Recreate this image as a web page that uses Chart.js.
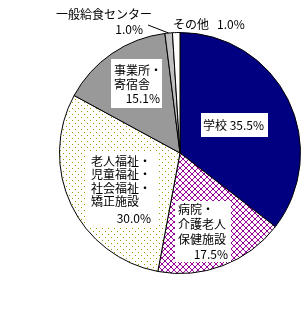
<!DOCTYPE html>
<html>
<head>
<meta charset="utf-8">
<script src="https://cdn.jsdelivr.net/npm/chart.js@4"></script>
<style>
  html, body { margin: 0; padding: 0; background: #fff; }
  canvas { display: block; }
</style>
</head>
<body>
<canvas id="chart" width="308" height="310"></canvas>
<script>
// data
const categories = ["学校", "病院・介護老人保健施設", "老人福祉・児童福祉・社会福祉・矯正施設", "事業所・寄宿舎", "一般給食センター", "その他"];
const shares = [35.5, 17.5, 30.0, 15.1, 1.0, 1.0];
const shareLabels = ["35.5%", "17.5%", "30.0%", "15.1%", "1.0%", "1.0%"];
const nameLines = [["学校"], ["病院・", "介護老人", "保健施設"], ["老人福祉・", "児童福祉・", "社会福祉・", "矯正施設"], ["事業所・", "寄宿舎"], ["一般給食センター"], ["その他"]];

const FONT = '12px "Noto Sans CJK JP"';

function makePattern(size, draw) {
    const c = document.createElement("canvas");
    c.width = size; c.height = size;
    const g = c.getContext("2d");
    g.fillStyle = "#fff";
    g.fillRect(0, 0, size, size);
    draw(g);
    return g.createPattern(c, "repeat");
}

// purple cross hatch
const hatch = makePattern(6, function(g) {
    g.fillStyle = "#990099";
    for (let i = 0; i < 6; i++) {
        g.fillRect(i, i, 1, 1);
        g.fillRect(5 - i, i, 1, 1);
    }
});

// olive dots, sparse
const dots = makePattern(6, function(g) {
    g.fillStyle = "#999900";
    g.fillRect(0, 0, 1, 1);
    g.fillRect(3, 3, 1, 1);
});

const colors = ["#000080", hatch, dots, "#999999", "#c0c0c0", "#ffffff"];

// label boxes inside slices
const labelPlugin = {
    id: "labels",
    afterDatasetsDraw(chart) {
        const ctx = chart.ctx;
        ctx.save();
        ctx.font = FONT;
        ctx.textBaseline = "middle";

        function box(x, y, w, h) {
            ctx.fillStyle = "#fff";
            ctx.fillRect(x, y, w, h);
        }
        function text(s, x, y, align) {
            ctx.fillStyle = "#000";
            ctx.textAlign = align || "left";
            ctx.fillText(s, x, y);
        }

        // 学校
        box(201, 113, 67, 24);
        text(nameLines[0][0] + " " + shareLabels[0], 203, 125);

        // 病院
        box(175, 201, 56, 61);
        nameLines[1].forEach((s, i) => text(s, 178, 209 + i * 15));
        text(shareLabels[1], 228, 254, "right");

        // 老人福祉
        box(85, 151, 73, 76);
        nameLines[2].forEach((s, i) => text(s, 91, 161 + i * 13.5));
        text(shareLabels[2], 151, 218, "right");

        // 事業所
        box(111, 59, 51, 49);
        nameLines[3].forEach((s, i) => text(s, 114, 70 + i * 14));
        text(shareLabels[3], 160, 98, "right");

        // outside labels
        text(nameLines[4][0], 56, 14);
        text(shareLabels[4], 143, 29, "right");
        text(nameLines[5][0], 173, 24);
        text(shareLabels[5], 217, 24);

        // leader line to 一般給食センター slice
        const arc = chart.getDatasetMeta(0).data[4];
        const mid = (arc.startAngle + arc.endAngle) / 2;
        const ex = arc.x + arc.outerRadius * Math.cos(mid);
        const ey = arc.y + arc.outerRadius * Math.sin(mid);
        ctx.strokeStyle = "#000";
        ctx.lineWidth = 1;
        ctx.beginPath();
        ctx.moveTo(148, 25);
        ctx.lineTo(ex, ey);
        ctx.stroke();
        ctx.restore();
    }
};

new Chart(document.getElementById("chart"), {
    type: "pie",
    data: {
        labels: categories,
        datasets: [{
            data: shares,
            backgroundColor: colors,
            borderColor: "#000",
            borderWidth: 1
        }]
    },
    options: {
        responsive: false,
        animation: false,
        events: [],
        layout: { padding: { left: 59, right: 7, top: 32, bottom: 36 } },
        plugins: {
            legend: { display: false },
            tooltip: { enabled: false }
        }
    },
    plugins: [labelPlugin]
});
</script>
</body>
</html>
